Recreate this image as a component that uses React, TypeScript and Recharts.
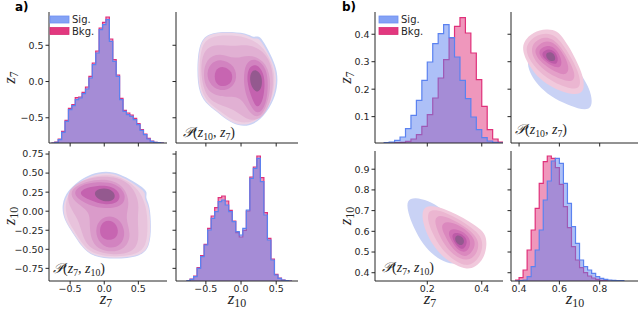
import React from "react";
import { ComposedChart, ScatterChart, Area, Scatter, XAxis, YAxis, Curve } from "recharts";

// colours
const SIG = "#5b82f0";
const BKG = "#e0307a";
const INK = "#262626";
const TICK_FONT = "'DejaVu Sans', sans-serif";
const MATH_FONT = "'Liberation Serif', 'DejaVu Serif', serif";

// ---------- histogram data (bin edges, counts per bin) ----------
const aZ7Edges = [-0.775, -0.725, -0.675, -0.625, -0.575, -0.525, -0.475, -0.425, -0.375, -0.325, -0.275, -0.225, -0.175, -0.125, -0.075, -0.025, 0.025, 0.075, 0.125, 0.175, 0.225, 0.275, 0.325, 0.375, 0.425, 0.475, 0.525, 0.575, 0.625, 0.675, 0.725, 0.775, 0.825, 0.875];
const aZ7Sig = [0, 2, 10, 32, 65, 100, 112, 130, 135, 148, 162, 195, 235, 270, 340, 355, 370, 305, 245, 200, 130, 95, 85, 80, 70, 55, 38, 25, 12, 5, 2, 1, 0];
const aZ7Bkg = [0, 3, 12, 35, 68, 104, 115, 136, 138, 152, 168, 200, 240, 276, 345, 362, 378, 312, 250, 204, 134, 98, 90, 84, 74, 58, 40, 27, 14, 6, 2, 1, 0];

const aZ10Edges = [-0.775, -0.725, -0.675, -0.625, -0.575, -0.525, -0.475, -0.425, -0.375, -0.325, -0.275, -0.225, -0.175, -0.125, -0.075, -0.025, 0.025, 0.075, 0.125, 0.175, 0.225, 0.275, 0.325, 0.375, 0.425, 0.475, 0.525, 0.575, 0.625, 0.675, 0.725];
const aZ10Sig = [1, 5, 13, 38, 73, 108, 153, 188, 208, 238, 243, 228, 208, 178, 148, 138, 158, 213, 308, 338, 368, 298, 198, 123, 63, 18, 8, 3, 1, 0];
const aZ10Bkg = [1, 6, 15, 40, 76, 110, 158, 195, 220, 250, 255, 240, 212, 180, 145, 132, 152, 210, 312, 342, 375, 310, 205, 128, 66, 20, 9, 3, 1, 0];

const bZ7Edges = [0.04, 0.06, 0.08, 0.1, 0.12, 0.14, 0.16, 0.18, 0.2, 0.22, 0.24, 0.26, 0.28, 0.3, 0.32, 0.34, 0.36, 0.38, 0.4, 0.42, 0.44, 0.46, 0.48];
const bZ7Sig = [1, 3, 8, 18, 43, 83, 128, 188, 243, 298, 328, 355, 316, 258, 188, 133, 78, 40, 16, 6, 2, 0];
const bZ7Bkg = [0, 0, 1, 2, 5, 12, 25, 50, 85, 135, 195, 250, 315, 350, 376, 330, 270, 190, 110, 40, 12, 3];

const bZ10Edges = [0.38, 0.4, 0.42, 0.44, 0.46, 0.48, 0.5, 0.52, 0.54, 0.56, 0.58, 0.6, 0.62, 0.64, 0.66, 0.68, 0.7, 0.72, 0.74, 0.76, 0.78, 0.8, 0.82, 0.84, 0.86, 0.88, 0.9, 0.92];
const bZ10Sig = [0, 1, 3, 13, 43, 93, 153, 243, 300, 360, 368, 353, 293, 233, 163, 113, 63, 43, 33, 23, 13, 8, 5, 3, 2, 1, 1];
const bZ10Bkg = [3, 10, 33, 93, 153, 218, 293, 358, 375, 368, 340, 290, 223, 160, 103, 63, 40, 25, 15, 9, 5, 2, 1, 0, 0, 0, 0];

// ---------- KDE contour outlines, [z10, z7] ----------
const aSigOuter = [[-0.6, 0.53], [-0.47, 0.67], [-0.2, 0.69], [0.08, 0.67], [0.18, 0.6], [0.25, 0.64], [0.33, 0.54], [0.45, 0.32], [0.52, 0.13], [0.52, -0.08], [0.45, -0.3], [0.28, -0.54], [0.08, -0.63], [-0.12, -0.59], [-0.3, -0.45], [-0.47, -0.33], [-0.6, -0.17], [-0.63, 0.15]];
const aBkgL0 = [[-0.59, 0.52], [-0.47, 0.66], [-0.21, 0.68], [0.07, 0.66], [0.17, 0.58], [0.24, 0.61], [0.31, 0.52], [0.43, 0.31], [0.5, 0.13], [0.5, -0.07], [0.43, -0.3], [0.26, -0.53], [0.07, -0.61], [-0.12, -0.58], [-0.3, -0.44], [-0.47, -0.32], [-0.59, -0.16], [-0.62, 0.15]];
const aBkgL1 = [[-0.57, 0.49], [-0.45, 0.62], [-0.2, 0.64], [0.07, 0.62], [0.3, 0.5], [0.42, 0.3], [0.48, 0.1], [0.47, -0.1], [0.41, -0.32], [0.26, -0.52], [0.07, -0.58], [-0.12, -0.54], [-0.3, -0.41], [-0.47, -0.29], [-0.57, -0.13], [-0.6, 0.15]];
const aBkgL2 = [[-0.55, 0.42], [-0.38, 0.52], [-0.1, 0.48], [0.1, 0.52], [0.33, 0.42], [0.45, 0.2], [0.46, -0.1], [0.4, -0.35], [0.26, -0.55], [0.06, -0.52], [-0.1, -0.38], [-0.32, -0.32], [-0.5, -0.22], [-0.58, 0.1]];
const aBkgL3 = [[-0.5, 0.32], [-0.3, 0.4], [-0.08, 0.3], [0.1, 0.38], [0.33, 0.3], [0.43, 0.05], [0.4, -0.25], [0.28, -0.52], [0.12, -0.45], [0, -0.2], [-0.2, -0.22], [-0.45, -0.18], [-0.55, 0.05]];
const aBkgL4a = [[-0.45, 0.25], [-0.28, 0.32], [-0.08, 0.22], [-0.05, 0], [-0.2, -0.14], [-0.4, -0.1], [-0.5, 0.07]];
const aBkgL4b = [[0.05, 0.27], [0.22, 0.33], [0.37, 0.18], [0.39, -0.1], [0.34, -0.37], [0.22, -0.47], [0.1, -0.28], [0.03, -0.05]];
const aBkgL5a = [[-0.38, 0.17], [-0.25, 0.22], [-0.12, 0.14], [-0.12, -0.02], [-0.25, -0.08], [-0.38, -0.03]];
const aBkgL5b = [[0.1, 0.2], [0.22, 0.25], [0.33, 0.12], [0.34, -0.1], [0.3, -0.3], [0.22, -0.38], [0.14, -0.2], [0.08, 0]];
const aBkgL6 = [[0.14, 0.14], [0.22, 0.17], [0.3, 0.08], [0.3, -0.08], [0.24, -0.16], [0.16, -0.1], [0.12, 0.02]];

const bSigOuter = [[0.438, 0.318], [0.504, 0.355], [0.587, 0.343], [0.653, 0.306], [0.711, 0.252], [0.749, 0.203], [0.765, 0.155], [0.752, 0.124], [0.694, 0.128], [0.62, 0.149], [0.537, 0.183], [0.479, 0.227], [0.446, 0.27]];
const bBkgL0 = [[0.425, 0.376], [0.468, 0.408], [0.537, 0.42], [0.59, 0.413], [0.624, 0.381], [0.666, 0.332], [0.698, 0.282], [0.72, 0.24], [0.723, 0.2], [0.704, 0.183], [0.662, 0.181], [0.6, 0.194], [0.535, 0.219], [0.476, 0.256], [0.434, 0.306], [0.416, 0.345]];
const bBkgL1 = [[0.44, 0.365], [0.48, 0.395], [0.535, 0.405], [0.58, 0.395], [0.615, 0.365], [0.655, 0.32], [0.69, 0.27], [0.705, 0.23], [0.7, 0.205], [0.66, 0.2], [0.6, 0.215], [0.54, 0.24], [0.49, 0.27], [0.45, 0.31], [0.435, 0.34]];
const bBkgL2 = [[0.46, 0.36], [0.5, 0.385], [0.55, 0.39], [0.59, 0.37], [0.63, 0.33], [0.665, 0.28], [0.68, 0.245], [0.66, 0.225], [0.61, 0.235], [0.55, 0.255], [0.5, 0.285], [0.465, 0.32]];
const bBkgL3 = [[0.48, 0.35], [0.52, 0.375], [0.56, 0.375], [0.6, 0.35], [0.635, 0.31], [0.65, 0.27], [0.63, 0.25], [0.59, 0.26], [0.54, 0.28], [0.5, 0.305], [0.48, 0.33]];
const bBkgL4 = [[0.5, 0.345], [0.535, 0.36], [0.57, 0.355], [0.6, 0.33], [0.615, 0.295], [0.6, 0.275], [0.56, 0.285], [0.52, 0.305], [0.5, 0.325]];
const bBkgL5 = [[0.515, 0.335], [0.545, 0.348], [0.575, 0.34], [0.595, 0.315], [0.59, 0.29], [0.56, 0.293], [0.53, 0.308], [0.515, 0.322]];
const bBkgL6 = [[0.53, 0.33], [0.555, 0.338], [0.578, 0.325], [0.582, 0.305], [0.56, 0.3], [0.538, 0.31]];

type Pt = { z10: number; z7: number };
const pts = (arr: number[][]): Pt[] => arr.map(([z10, z7]) => ({ z10, z7 }));

const aLayers = [
  { fill: "#c9d2f5", d: pts(aSigOuter) },
  { fill: "#edd3e5", d: pts(aBkgL0) },
  { fill: "#e8c3dc", d: pts(aBkgL1) },
  { fill: "#e1b0d3", d: pts(aBkgL2) },
  { fill: "#da9bca", d: pts(aBkgL3) },
  { fill: "#d283c0", d: pts(aBkgL4a) },
  { fill: "#d283c0", d: pts(aBkgL4b) },
  { fill: "#c765b1", d: pts(aBkgL5a) },
  { fill: "#c462af", d: pts(aBkgL5b) },
  { fill: "#94598f", d: pts(aBkgL6) },
];
const bLayers = [
  { fill: "#c9d2f5", d: pts(bSigOuter) },
  { fill: "#f1c9dc", d: pts(bBkgL0) },
  { fill: "#ebb6d1", d: pts(bBkgL1) },
  { fill: "#e4a0c8", d: pts(bBkgL2) },
  { fill: "#db88be", d: pts(bBkgL3) },
  { fill: "#d070b5", d: pts(bBkgL4) },
  { fill: "#bd5ba8", d: pts(bBkgL5) },
  { fill: "#93598f", d: pts(bBkgL6) },
];

// ---------- axes ----------
const aZ7Ticks = [-0.5, 0, 0.5];
const aZ10YTicks = [-0.75, -0.5, -0.25, 0, 0.25, 0.5, 0.75];
const aZ10XTicks = [-0.5, 0, 0.5];
const bZ7YTicks = [0.1, 0.2, 0.3, 0.4];
const bZ7XTicks = [0.2, 0.4];
const bZ10YTicks = [0.4, 0.5, 0.6, 0.7, 0.8, 0.9];
const bZ10XTicks = [0.4, 0.6, 0.8];

const aZ7X: [number, number] = [-0.81, 0.92];
const aZ10X: [number, number] = [-0.925, 0.81];
const aZ7Y: [number, number] = [-0.848, 0.959];
const aZ10Y: [number, number] = [-0.916, 0.79];
const bZ7X: [number, number] = [0.008, 0.478];
const bZ10X: [number, number] = [0.36, 0.99];
const bZ7Y: [number, number] = [0.004, 0.481];
const bZ10Y: [number, number] = [0.36, 0.988];

const fmt = (dec: number) => (v: number) => {
  const s = Math.abs(v).toFixed(dec);
  return v < 0 ? "\u2212" + s : s;
};

type Rect = { x: number; y: number; w: number; h: number };
const PAD_T = 6;
const PAD_R = 4;

function axisProps(showLabels: boolean, dec: number, margin = 2) {
  return {
    tickSize: 3.5,
    tickMargin: margin,
    axisLine: { stroke: INK, strokeWidth: 1 },
    tickLine: { stroke: INK, strokeWidth: 1 },
    tick: { fill: INK, fontSize: 9.5, fontFamily: TICK_FONT },
    tickFormatter: showLabels ? fmt(dec) : () => "",
    allowDataOverflow: true,
    type: "number" as const,
  };
}

function HistPanel(p: {
  plot: Rect; edges: number[]; sig: number[]; bkg: number[];
  xDomain: [number, number]; xTicks: number[]; xDec: number; xLabels: boolean;
  yDomain: [number, number]; yTicks: number[]; yDec: number; yLabels: boolean;
}) {
  const yw = p.yLabels ? 40 : 8;
  const xh = p.xLabels ? 15 : 8;
  const rows = p.edges.map((x, i) => ({ x, sig: p.sig[i] ?? 0, bkg: p.bkg[i] ?? 0 }));
  return (
    <div style={{ position: "absolute", left: p.plot.x - yw, top: p.plot.y - PAD_T }}>
      <ComposedChart width={yw + p.plot.w + PAD_R} height={PAD_T + p.plot.h + xh} data={rows}
        margin={{ top: PAD_T, right: PAD_R, bottom: 0, left: 0 }}>
        <XAxis dataKey="x" domain={p.xDomain} ticks={p.xTicks} height={xh} {...axisProps(p.xLabels, p.xDec, 1)} />
        <YAxis yAxisId="v" domain={p.yDomain} ticks={p.yTicks} width={yw} {...axisProps(p.yLabels, p.yDec)} />
        <YAxis yAxisId="d" orientation="right" type="number" domain={[0, p.plot.h * 3]} hide allowDataOverflow />
        <Area yAxisId="d" type="stepAfter" dataKey="bkg" stroke={BKG} strokeWidth={1.2}
          fill={BKG} fillOpacity={0.5} dot={false} activeDot={false} isAnimationActive={false} />
        <Area yAxisId="d" type="stepAfter" dataKey="sig" stroke={SIG} strokeWidth={1.2}
          fill={SIG} fillOpacity={0.5} dot={false} activeDot={false} isAnimationActive={false} />
      </ComposedChart>
    </div>
  );
}

const noDot = () => <g />;

function KdePanel(p: {
  plot: Rect; layers: { fill: string; d: Pt[] }[]; xKey: "z7" | "z10"; yKey: "z7" | "z10";
  xDomain: [number, number]; xTicks: number[]; xDec: number; xLabels: boolean;
  yDomain: [number, number]; yTicks: number[]; yDec: number; yLabels: boolean;
}) {
  const yw = p.yLabels ? 40 : 8;
  const xh = p.xLabels ? 15 : 8;
  return (
    <div style={{ position: "absolute", left: p.plot.x - yw, top: p.plot.y - PAD_T }}>
      <ScatterChart width={yw + p.plot.w + PAD_R} height={PAD_T + p.plot.h + xh}
        margin={{ top: PAD_T, right: PAD_R, bottom: 0, left: 0 }}>
        <XAxis dataKey={p.xKey} domain={p.xDomain} ticks={p.xTicks} height={xh} {...axisProps(p.xLabels, p.xDec, 1)} />
        <YAxis dataKey={p.yKey} domain={p.yDomain} ticks={p.yTicks} width={yw} {...axisProps(p.yLabels, p.yDec)} />
        {p.layers.map((l, i) => (
          <Scatter key={i} data={l.d} fill={l.fill} shape={noDot} isAnimationActive={false}
            line={(lp: any) => <Curve points={lp.points} type="basisClosed" fill={l.fill} stroke="none" />} />
        ))}
      </ScatterChart>
    </div>
  );
}

function Z({ x, y, sub, size = 17, rotate = false }: { x: number; y: number; sub: string; size?: number; rotate?: boolean }) {
  return (
    <text x={x} y={y} fontFamily={MATH_FONT} fontSize={size} fill={INK} textAnchor="middle"
      transform={rotate ? `rotate(-90 ${x} ${y})` : undefined}>
      <tspan fontStyle="italic">z</tspan>
      <tspan fontSize={size * 0.7} dy={size * 0.2}>{sub}</tspan>
    </text>
  );
}

function PLabel({ x, y, a, b }: { x: number; y: number; a: string; b: string }) {
  const s = 14;
  return (
    <text x={x} y={y} fontFamily={MATH_FONT} fontSize={s} fill={INK}>
      <tspan fontStyle="italic">{"\u{1D4AB}"}</tspan>
      <tspan>(</tspan>
      <tspan fontStyle="italic">z</tspan>
      <tspan fontSize={s * 0.7} dy={3}>{a}</tspan>
      <tspan dy={-3}>, </tspan>
      <tspan fontStyle="italic">z</tspan>
      <tspan fontSize={s * 0.7} dy={3}>{b}</tspan>
      <tspan dy={-3}>)</tspan>
    </text>
  );
}

function Legend({ x }: { x: number }) {
  return (
    <g fontFamily={TICK_FONT} fontSize={10} fill={INK}>
      <rect x={x} y={16} width={19} height={7} fill="#84a2f5" stroke="#6f90f2" strokeWidth={0.8} />
      <text x={x + 22} y={23}>Sig.</text>
      <rect x={x} y={27.5} width={19} height={7} fill="#e2387f" stroke="#d92f76" strokeWidth={0.8} />
      <text x={x + 22} y={34.5}>Bkg.</text>
    </g>
  );
}

// plot rectangles
const A00 = { x: 49, y: 12, w: 118, h: 131 };
const A01 = { x: 176, y: 12, w: 122, h: 131 };
const A10 = { x: 49, y: 151, w: 118, h: 130 };
const A11 = { x: 176, y: 151, w: 122, h: 130 };
const B00 = { x: 375, y: 12, w: 128, h: 131 };
const B01 = { x: 511, y: 12, w: 127, h: 131 };
const B10 = { x: 375, y: 151, w: 128, h: 130 };
const B11 = { x: 511, y: 151, w: 127, h: 130 };

export default function App() {
  return (
    <div style={{ position: "absolute", left: 0, top: 0, width: 640, height: 314, background: "#fff", overflow: "hidden" }}>
      {/* panel a */}
      <HistPanel plot={A00} edges={aZ7Edges} sig={aZ7Sig} bkg={aZ7Bkg}
        xDomain={aZ7X} xTicks={aZ7Ticks} xDec={1} xLabels={false}
        yDomain={aZ7Y} yTicks={aZ7Ticks} yDec={1} yLabels={true} />
      <KdePanel plot={A01} layers={aLayers} xKey="z10" yKey="z7"
        xDomain={aZ10X} xTicks={aZ10XTicks} xDec={1} xLabels={false}
        yDomain={aZ7Y} yTicks={aZ7Ticks} yDec={1} yLabels={false} />
      <KdePanel plot={A10} layers={aLayers} xKey="z7" yKey="z10"
        xDomain={aZ7X} xTicks={aZ7Ticks} xDec={1} xLabels={true}
        yDomain={aZ10Y} yTicks={aZ10YTicks} yDec={2} yLabels={true} />
      <HistPanel plot={A11} edges={aZ10Edges} sig={aZ10Sig} bkg={aZ10Bkg}
        xDomain={aZ10X} xTicks={aZ10XTicks} xDec={1} xLabels={true}
        yDomain={aZ10Y} yTicks={aZ10YTicks} yDec={2} yLabels={false} />
      {/* panel b */}
      <HistPanel plot={B00} edges={bZ7Edges} sig={bZ7Sig} bkg={bZ7Bkg}
        xDomain={bZ7X} xTicks={bZ7XTicks} xDec={1} xLabels={false}
        yDomain={bZ7Y} yTicks={bZ7YTicks} yDec={1} yLabels={true} />
      <KdePanel plot={B01} layers={bLayers} xKey="z10" yKey="z7"
        xDomain={bZ10X} xTicks={bZ10XTicks} xDec={1} xLabels={false}
        yDomain={bZ7Y} yTicks={bZ7YTicks} yDec={1} yLabels={false} />
      <KdePanel plot={B10} layers={bLayers} xKey="z7" yKey="z10"
        xDomain={bZ7X} xTicks={bZ7XTicks} xDec={1} xLabels={true}
        yDomain={bZ10Y} yTicks={bZ10YTicks} yDec={1} yLabels={true} />
      <HistPanel plot={B11} edges={bZ10Edges} sig={bZ10Sig} bkg={bZ10Bkg}
        xDomain={bZ10X} xTicks={bZ10XTicks} xDec={1} xLabels={true}
        yDomain={bZ10Y} yTicks={bZ10YTicks} yDec={1} yLabels={false} />

      <svg width={640} height={314} style={{ position: "absolute", left: 0, top: 0, pointerEvents: "none" }}>
        <text x={15} y={11} fontFamily={TICK_FONT} fontWeight="bold" fontSize={12} fill="#000">a)</text>
        <text x={342} y={11} fontFamily={TICK_FONT} fontWeight="bold" fontSize={12} fill="#000">b)</text>
        <Legend x={50} />
        <Legend x={379} />
        <Z x={15} y={77.5} sub="7" rotate />
        <Z x={15} y={216} sub="10" rotate />
        <Z x={351} y={77.5} sub="7" rotate />
        <Z x={351} y={216} sub="10" rotate />
        <Z x={106} y={304} sub="7" />
        <Z x={237} y={304} sub="10" />
        <Z x={430} y={304} sub="7" />
        <Z x={575} y={304} sub="10" />
        <PLabel x={183} y={137} a="10" b="7" />
        <PLabel x={53} y={273} a="7" b="10" />
        <PLabel x={515} y={134} a="10" b="7" />
        <PLabel x={382} y={272} a="7" b="10" />
      </svg>
    </div>
  );
}
